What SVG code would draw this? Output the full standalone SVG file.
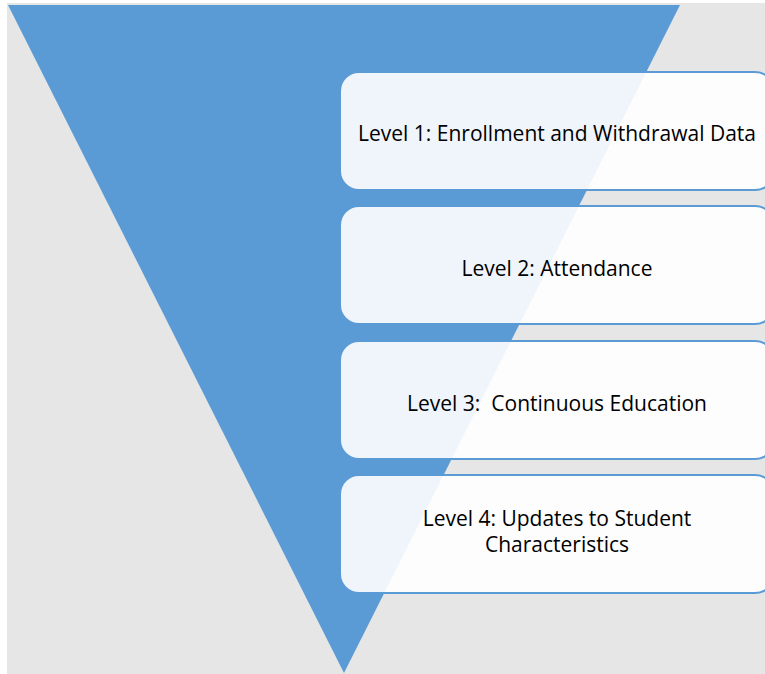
<svg xmlns="http://www.w3.org/2000/svg" width="765" height="674" viewBox="0 0 765 674">
<style>
.box{fill:#ffffff;fill-opacity:0.9;stroke:#5b9bd5;stroke-width:2}
.lbl{font-family:"Open Sans","Liberation Sans",sans-serif;font-size:21px;fill:#000000;text-anchor:middle;white-space:pre}
</style>
<rect x="7" y="3" width="758" height="671" fill="#e6e6e6"/>
<polygon id="funnel" points="8,5 680,5 344,673" fill="#5b9bd5"/>
<g id="connectors"></g>
<g id="level1">
<rect class="box" x="340" y="72" width="434" height="118" rx="19"/>
<text class="lbl" x="557" y="141">Level 1: Enrollment and Withdrawal Data</text>
</g>
<g id="level2">
<rect class="box" x="340" y="206" width="434" height="118" rx="19"/>
<text class="lbl" x="557" y="276">Level 2: Attendance</text>
</g>
<g id="level3">
<rect class="box" x="340" y="341" width="434" height="118" rx="19"/>
<text class="lbl" x="557" y="411" xml:space="preserve">Level 3:  Continuous Education</text>
</g>
<g id="level4">
<rect class="box" x="340" y="475" width="434" height="118" rx="19"/>
<text class="lbl" x="557" y="526">Level 4: Updates to Student</text>
<text class="lbl" x="557" y="552">Characteristics</text>
</g>
</svg>
